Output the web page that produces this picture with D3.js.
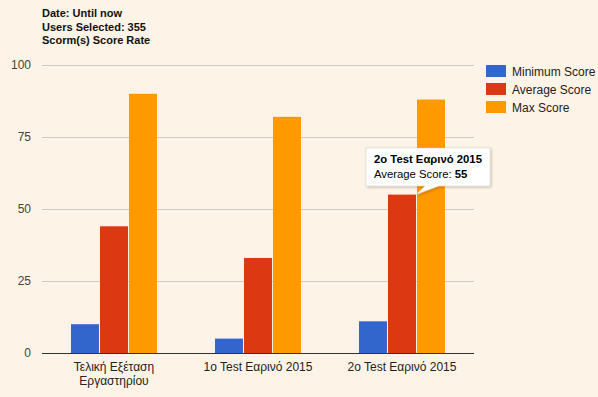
<!DOCTYPE html>
<html>
<head>
<meta charset="utf-8">
<script src="https://cdn.jsdelivr.net/npm/d3@7"></script>
<style>
body { margin: 0; background: #fdf3e6; }
svg { display: block; font-family: "Liberation Sans", Arial, sans-serif; }
</style>
</head>
<body>
<svg id="chartSvg" width="598" height="397"></svg>
<script>
//data
var titleLines = ['Date: Until now', 'Users Selected: 355', 'Scorm(s) Score Rate'];
var categories = [['Τελική Εξέταση', 'Εργαστηρίου'], ['1o Test Εαρινό 2015'], ['2o Test Εαρινό 2015']];
var seriesNames = ['Minimum Score', 'Average Score', 'Max Score'];
var minScores = [10, 5, 11];
var avgScores = [44, 33, 55];
var maxScores = [90, 82, 88];
var yTicks = [0, 25, 50, 75, 100];
var colors = ['#3366cc', '#dc3912', '#ff9900'];

var svg = d3.select('#chartSvg');
var plot = {left: 42, right: 474, top: 65, bottom: 353};

//title
svg.selectAll('.title')
	.data(titleLines)
	.join('text')
	.attr('x', 42)
	.attr('y', (d, i) => 17 + i * 13.5)
	.style('font-size', '11px')
	.style('font-weight', 'bold')
	.style('fill', '#111')
	.text(d => d);

//scales
var x = d3.scaleBand().domain([0, 1, 2]).range([plot.left, plot.right]);
var xInner = d3.scaleBand().domain([0, 1, 2]).range([29, x.bandwidth() - 28]);
var y = d3.scaleLinear().domain([0, 100]).range([plot.bottom, plot.top]);

//gridlines + tick labels
var yAxis = d3.axisLeft(y).tickValues(yTicks).tickSize(-(plot.right - plot.left)).tickPadding(11);
var gy = svg.append('g').attr('transform', `translate(${plot.left},0)`).call(yAxis);
gy.select('.domain').remove();
gy.selectAll('line').style('stroke', '#cccccc');
gy.selectAll('text').style('font-size', '12px').style('fill', '#444').style('font-family', 'Liberation Sans, Arial, sans-serif');

//bars
var series = [minScores, avgScores, maxScores];
var barData = [];
series.forEach((vals, s) => vals.forEach((v, c) => barData.push({s: s, c: c, v: v})));

svg.selectAll('.bar')
	.data(barData)
	.join('rect')
	.classed('bar', true)
	.attr('x', d => x(d.c) + xInner(d.s))
	.attr('y', d => y(d.v))
	.attr('width', xInner.bandwidth() - 1)
	.attr('height', d => y(0) - y(d.v))
	.style('fill', d => colors[d.s]);

//selected bar
var sel = barData.find(d => d.s === 1 && d.c === 2);

//baseline
svg.append('line')
	.attr('x1', plot.left).attr('x2', plot.right)
	.attr('y1', y(0) + 0.5).attr('y2', y(0) + 0.5)
	.style('stroke', '#333');

//x labels
var xl = svg.selectAll('.xlabel')
	.data(categories)
	.join('text')
	.classed('xlabel', true)
	.attr('text-anchor', 'middle')
	.style('font-size', '12px')
	.style('fill', '#222');
xl.each(function(lines, i) {
	d3.select(this).selectAll('tspan')
		.data(lines)
		.join('tspan')
		.attr('x', x(i) + x.bandwidth() / 2)
		.attr('y', (d, j) => 371 + j * 14)
		.text(d => d);
});

//legend
var legend = svg.selectAll('.legend')
	.data(seriesNames)
	.join('g')
	.classed('legend', true)
	.attr('transform', (d, i) => `translate(486,${65 + i * 18})`);
legend.append('rect')
	.attr('width', 20).attr('height', 12)
	.style('fill', (d, i) => colors[i]);
legend.append('text')
	.attr('x', 26).attr('y', 10.5)
	.style('font-size', '12px')
	.style('fill', '#222')
	.text(d => d);

//tooltip
var tipX = x(sel.c) + xInner(sel.s) + xInner.bandwidth() - 1;
var tipY = y(sel.v);
var defs = svg.append('defs');
var f = defs.append('filter').attr('id', 'shadow').attr('x', '-10%').attr('y', '-10%').attr('width', '130%').attr('height', '140%');
f.append('feDropShadow').attr('dx', 1).attr('dy', 1).attr('stdDeviation', 1.5).attr('flood-color', '#000').attr('flood-opacity', 0.25);
var tip = svg.append('g');
tip.append('path')
	.attr('d', `M366,148 H490 V186 H${tipX + 23} L${tipX},${tipY} L${tipX + 9},186 H366 Z`)
	.style('fill', '#fff')
	.style('stroke', '#ccc')
	.style('stroke-width', 0.5)
	.attr('filter', 'url(#shadow)');
tip.append('text')
	.attr('x', 374).attr('y', 163)
	.style('font-size', '11.3px')
	.style('font-weight', 'bold')
	.style('fill', '#000')
	.text(categories[2][0]);
var t2 = tip.append('text')
	.attr('x', 374).attr('y', 178)
	.style('font-size', '11.3px')
	.style('fill', '#000');
t2.append('tspan').text(seriesNames[1] + ': ');
t2.append('tspan').style('font-weight', 'bold').text(sel.v);
</script>
</body>
</html>
